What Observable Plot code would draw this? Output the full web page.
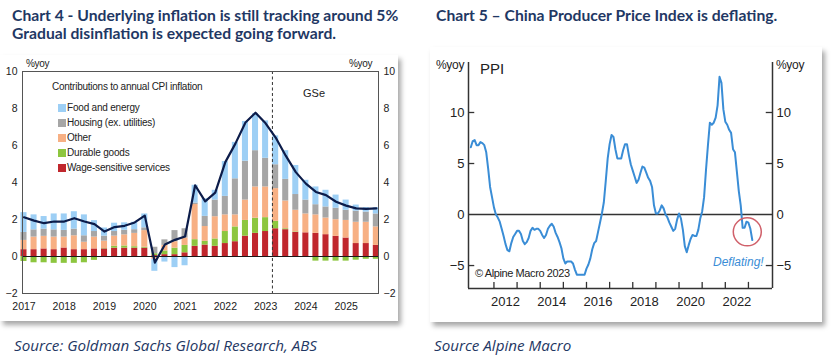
<!DOCTYPE html>
<html><head><meta charset="utf-8">
<script src="https://cdn.jsdelivr.net/npm/d3@7"></script>
<script src="https://cdn.jsdelivr.net/npm/@observablehq/plot@0.6"></script>
<style>
html,body{margin:0;padding:0;background:#fff;}
body{width:832px;height:362px;position:relative;overflow:hidden;font-family:"Liberation Sans",Arial,sans-serif;}
.abs{position:absolute;white-space:nowrap;}
.title{font-family:Lato,"Open Sans",sans-serif;font-weight:700;color:#1f3864;font-size:15.7px;line-height:18px;}
.source{font-family:"Open Sans",Lato,sans-serif;font-style:italic;color:#1f3864;font-size:15.2px;}
.panel{position:absolute;background:#fff;box-shadow:3px 4px 5px rgba(0,0,0,0.35);}
.sw{position:absolute;width:8px;height:8px;}
</style></head>
<body>
<div class="panel" style="left:0px;top:55px;width:398px;height:266px;"></div>
<div class="panel" style="left:430px;top:47px;width:392px;height:275px;"></div>
<div class="abs title" style="left:12px;top:6px;">Chart 4 - Underlying inflation is still tracking around 5%<br>Gradual disinflation is expected going forward.</div>
<div class="abs title" style="left:436px;top:6px;">Chart 5 – China Producer Price Index is deflating.</div>
<div id="left" class="abs" style="left:0px;top:55px;"></div>
<div id="right" class="abs" style="left:430px;top:47px;"></div>
<div class="abs source" style="left:14px;top:335px;">Source: Goldman Sachs Global Research, ABS</div>
<div class="abs source" style="left:434px;top:335px;">Source Alpine Macro</div>
<script>
// ---------- Chart 4 data (quarterly contributions, %yoy) ----------
const quarters = [2017,2017.25,2017.5,2017.75,2018,2018.25,2018.5,2018.75,2019,2019.25,2019.5,2019.75,
  2020,2020.25,2020.5,2020.75,2021,2021.25,2021.5,2021.75,2022,2022.25,2022.5,2022.75,
  2023,2023.25,2023.5,2023.75,2024,2024.25,2024.5,2024.75,2025,2025.25,2025.5,2025.75];
const wageSensitive = [.37,.37,.41,.37,.46,.37,.37,.41,.41,.45,.45,.45,.45,.05,.10,.10,.20,.55,.62,.55,.70,.80,1.10,1.25,1.35,1.50,1.45,1.30,1.28,1.25,1.18,1.09,1.00,.70,.70,.60];
const durableGoods = [-.27,-.34,-.34,-.37,-.37,-.37,-.34,-.21,.02,.10,.12,.08,.05,.10,.20,.35,.40,.36,.20,.40,.65,.80,.85,.82,.75,.40,.05,.03,0,-.25,-.25,-.25,-.25,-.20,-.15,-.15];
const otherItems = [.50,.68,.68,.68,.59,.75,.40,.64,.40,.55,.60,.72,.90,-.15,.30,.35,.40,1.90,.80,1.20,.90,.65,1.10,1.69,1.66,1.77,1.50,1.17,1.02,1.00,.90,.90,.95,1.15,1.15,1.00];
const housing = [.43,.39,.39,.39,.36,.36,.35,.30,.27,.25,.25,.20,.15,.35,.30,.60,.50,.08,.55,.90,1.00,1.95,2.10,1.96,1.55,1.29,1.17,.85,.75,.55,.60,.62,.55,.60,.55,.70];
const foodEnergy = [1.07,.81,.68,.86,.89,.94,1.13,.59,.44,.45,.40,.40,.75,-.65,-.30,-.60,-.50,.96,.95,.53,1.88,1.97,2.15,2.00,2.02,1.56,1.55,1.57,1.07,.96,.90,.71,.55,.33,.24,.34];
const headlineCPI = [2.12,1.94,1.80,1.89,1.89,2.07,1.89,1.75,1.35,1.59,1.66,1.84,2.21,-0.33,0.65,0.90,1.08,3.85,2.98,3.45,5.10,6.10,7.24,7.77,7.20,6.43,5.45,4.56,3.94,3.49,3.32,2.96,2.75,2.60,2.57,2.60];
const seriesNames = ["Wage-sensitive services","Durable goods","Other","Housing (ex. utilities)","Food and energy"];
const seriesColors = ["#c0272d","#8dc63f","#f7b084","#a6a6a6","#9dcff5"];
const cpiYTicks = [-2,0,2,4,6,8,10];
const cpiYearTicks = [2017,2018,2019,2020,2021,2022,2023,2024,2025];
const forecastStart = [2023.17];

// ---------- Chart 5 data (China PPI, monthly %yoy from Jan 2011) ----------
const ppiStartYear = 2011;
const ppiValues = [
  6.6,7.2,7.3,6.8,6.8,7.1,7.0,6.8,6.1,4.5,2.7,1.7,
  0.7,0.0,-0.3,-0.7,-1.4,-2.1,-2.9,-3.5,-3.6,-2.8,-2.2,-1.9,
  -1.6,-1.6,-1.9,-2.6,-2.9,-2.7,-2.3,-1.6,-1.3,-1.5,-1.4,-1.4,
  -1.6,-2.0,-2.3,-2.0,-1.4,-1.1,-0.9,-1.2,-1.8,-2.2,-2.7,-3.3,
  -4.3,-4.8,-4.6,-4.6,-4.6,-4.8,-5.4,-5.9,-5.9,-5.9,-5.9,-5.9,
  -5.3,-4.9,-4.3,-3.4,-2.8,-2.6,-1.7,-0.8,0.1,1.2,3.3,5.5,
  6.9,7.8,7.6,6.4,5.5,5.5,5.5,6.3,6.9,6.9,5.8,4.9,
  4.3,3.7,3.1,3.4,4.1,4.7,4.6,4.1,3.6,3.3,2.7,0.9,
  0.1,0.1,0.4,0.9,0.6,0.0,-0.3,-0.8,-1.2,-1.6,-1.4,-0.5,
  0.1,-0.4,-1.5,-3.1,-3.7,-3.0,-2.4,-2.0,-2.1,-2.1,-1.5,-0.4,
  0.3,1.7,4.4,6.8,9.0,8.8,9.0,9.5,10.7,13.5,12.9,10.3,
  9.1,8.8,8.3,8.0,6.4,6.1,4.2,2.3,0.9,-1.3,-1.3,-0.7,
  -0.8,-1.4,-2.5];
const ppiYTicks = [-5,0,5,10];
const ppiYearStarts = [2012,2013,2014,2015,2016,2017,2018,2019,2020,2021,2022,2023];
const ppiYearLabels = [2012,2014,2016,2018,2020,2022];
const deflatingMark = [{date: 2022.95, value: -1.7}];

// ---------- Chart 4 ----------
const stacked = [];
quarters.forEach((t, i) => {
  [wageSensitive, durableGoods, otherItems, housing, foodEnergy].forEach((s, k) => {
    stacked.push({t, key: seriesNames[k], v: s[i]});
  });
});
const cpiLine = quarters.map((t, i) => ({t, v: headlineCPI[i]}));
const halfBar = 0.075;

const left = Plot.plot({
  width: 400, height: 266,
  marginLeft: 22, marginRight: 22, marginTop: 16, marginBottom: 28,
  style: {fontFamily: "'Liberation Sans', Arial, sans-serif", fontSize: "10.5px", color: "#222", background: "transparent"},
  x: {domain: [2016.963, 2025.804], ticks: cpiYearTicks, tickFormat: d => String(d), tickSize: 0, tickPadding: 9, label: null},
  y: {domain: [-2, 10], ticks: cpiYTicks, tickSize: 0, tickPadding: 5, axis: "both", label: null},
  color: {domain: seriesNames, range: seriesColors},
  marks: [
    Plot.rectY(stacked, {x1: d => d.t - halfBar, x2: d => d.t + halfBar, y: "v", fill: "key"}),
    Plot.ruleY([0], {stroke: "#1a1a1a", strokeWidth: 1.2}),
    Plot.ruleX(forecastStart, {stroke: "#333", strokeDasharray: "3,2.5", strokeWidth: 1}),
    Plot.line(cpiLine, {x: "t", y: "v", stroke: "#0c1c4a", strokeWidth: 2.2}),
    Plot.frame({stroke: "#555"})
  ]
});
document.getElementById("left").append(left);

// ---------- Chart 5 ----------
const ppi = ppiValues.map((v, i) => ({date: ppiStartYear + i / 12, value: v}));
const ppiX = [2010.9, 2024.04];
const ppiY = [-7.25, 14.9];
const right = Plot.plot({
  width: 392, height: 275,
  marginLeft: 38, marginRight: 50, marginTop: 15, marginBottom: 34,
  style: {fontFamily: "'Liberation Sans', Arial, sans-serif", fontSize: "13px", color: "#222", background: "transparent"},
  x: {domain: ppiX, ticks: ppiYearLabels.map(y => y + 0.5), tickFormat: d => String(Math.floor(d)), tickSize: 0, tickPadding: 8, label: null},
  y: {domain: ppiY, ticks: ppiYTicks, tickSize: 0, tickPadding: 4, axis: "both", label: null},
  marks: [
    Plot.ruleY([0], {stroke: "#333", strokeWidth: 1.5}),
    Plot.ruleX(ppiX, {stroke: "#333", strokeWidth: 1.5}),
    Plot.ruleY([ppiY[0]], {stroke: "#333", strokeWidth: 1.5}),
    Plot.ruleX(ppiYearStarts, {y1: ppiY[0], y2: ppiY[0] + 0.6, stroke: "#333", strokeWidth: 1.3}),
    Plot.ruleY([-5, 5, 10], {x1: ppiX[0], x2: ppiX[0] + 0.27, stroke: "#333", strokeWidth: 1.3}),
    Plot.ruleY([-5, 5, 10], {x1: ppiX[1] - 0.27, x2: ppiX[1], stroke: "#333", strokeWidth: 1.3}),
    Plot.line(ppi, {x: "date", y: "value", stroke: "#3a8dd6", strokeWidth: 2}),
    Plot.dot(deflatingMark, {x: "date", y: "value", r: 14, stroke: "#d0606a", strokeWidth: 1.5, fill: "none"})
  ]
});
document.getElementById("right").append(right);

// ---------- overlays ----------
function addText(txt, x, y, style) {
  const d = document.createElement("div");
  d.className = "abs";
  d.textContent = txt;
  d.style.left = x + "px"; d.style.top = y + "px";
  Object.assign(d.style, style || {});
  document.body.append(d);
  return d;
}
const small = {fontSize: "10px", color: "#222", letterSpacing: "-0.3px"};
addText("%yoy", 26, 58, small);
addText("%yoy", 349, 58, small);
addText("GSe", 303, 87, {fontSize: "11px", color: "#222"});
addText("Contributions to annual CPI inflation", 52, 81, {fontSize: "10px", color: "#222", letterSpacing: "-0.25px"});
const legendOrder = [4, 3, 2, 1, 0];
const legendY = [104, 119, 134, 149, 164];
legendOrder.forEach((k, j) => {
  const sw = document.createElement("div");
  sw.className = "sw";
  sw.style.left = "58px"; sw.style.top = (legendY[j]) + "px";
  sw.style.background = seriesColors[k];
  document.body.append(sw);
  addText(seriesNames[k], 67, legendY[j] - 2, {fontSize: "10px", color: "#222", letterSpacing: "-0.2px"});
});
addText("%yoy", 436, 58, {fontSize: "12px", color: "#222", letterSpacing: "-0.3px"});
addText("%yoy", 776, 58, {fontSize: "12px", color: "#222", letterSpacing: "-0.3px"});
addText("PPI", 480, 60, {fontSize: "15px", color: "#222"});
addText("© Alpine Macro 2023", 475, 267, {fontSize: "11px", color: "#222", letterSpacing: "-0.4px"});
addText("Deflating!", 713, 255, {fontSize: "12px", color: "#3a8dd6", fontStyle: "italic"});
</script>
</body></html>
